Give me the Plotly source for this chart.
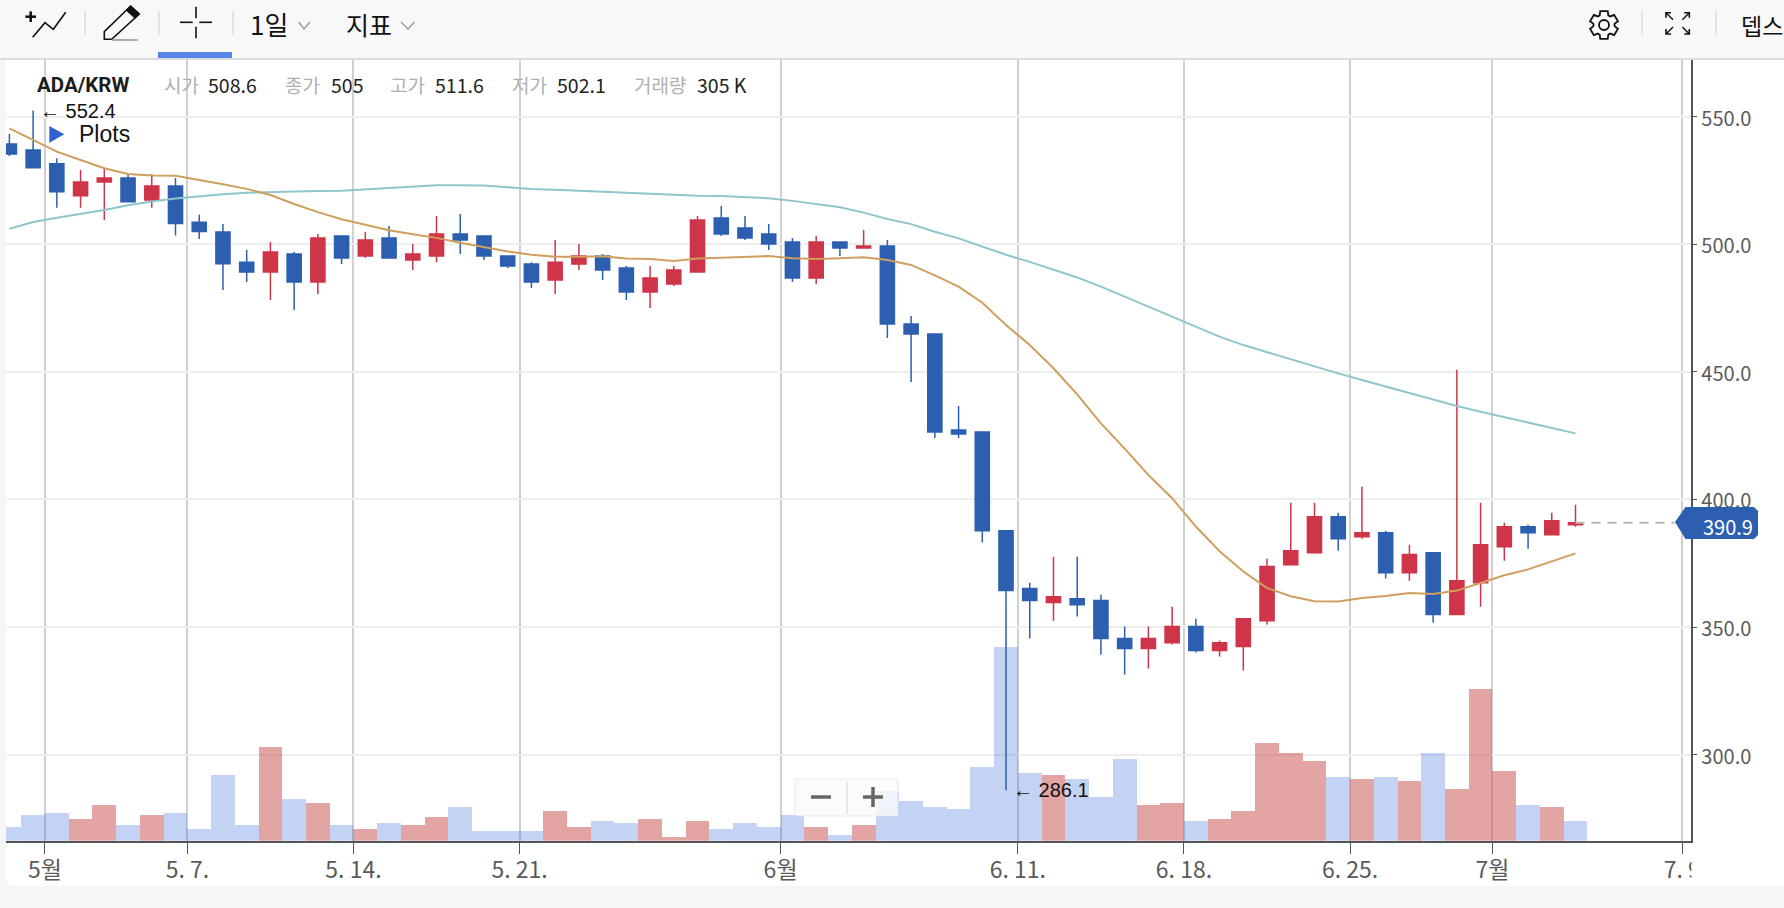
import math
import pandas as pd
import plotly.graph_objects as go

W, H = 1784, 908
SYMBOL = "ADA/KRW"
LAST_PRICE = 390.9

dates = pd.date_range("2023-04-29 12:00", periods=67, freq="D")

open_ = [539.3,536.9,531.5,519.0,524.4,526.0,517.3,522.8,508.6,504.8,493.0,489.1,496.2,485.2,503.2,495.4,502.5,493.8,495.4,504.0,
         503.2,495.4,492.3,486.0,492.3,495.4,490.7,481.3,484.4,489.1,510.3,506.4,504.0,500.9,486.8,500.9,498.5,499.3,468.8,464.8,
         427.2,426.4,387.7,365.1,359.6,361.1,360.4,345.5,341.6,343.9,350.2,340.8,342.4,352.5,374.4,379.1,393.2,385.4,387.0,371.3,
         379.1,354.9,367.4,381.5,389.3,386.2,390.1]
high = [543.2,552.4,533.7,529.1,529.8,527.5,527.5,526.0,511.6,507.9,497.8,500.9,497.0,504.0,503.2,504.8,507.2,500.1,511.1,511.9,
        503.2,495.4,493.0,501.7,500.1,496.2,491.5,491.5,491.5,511.1,515.0,511.1,507.9,502.5,503.2,500.9,505.6,501.7,471.9,464.8,
        436.6,426.4,387.7,367.4,377.6,377.6,362.7,350.2,350.2,358.0,353.3,344.7,353.3,376.8,398.7,398.7,394.8,405.0,387.7,382.3,
        379.1,450.8,398.7,390.9,390.1,394.8,397.9]
low = [534.6,530.0,514.3,514.3,509.5,516.7,514.3,503.4,502.1,482.1,485.2,478.2,474.2,480.5,492.3,494.6,494.6,489.9,493.0,496.2,
       493.8,490.7,482.9,480.5,489.9,486.0,478.2,475.0,483.6,489.1,503.2,501.7,497.8,485.2,484.4,495.4,498.5,463.3,446.0,424.1,
       424.1,383.1,286.1,345.5,352.5,354.1,339.2,331.4,333.8,343.2,340.0,338.5,333.0,351.0,374.4,379.1,379.9,384.6,369.0,368.2,
       351.8,354.9,358.0,376.0,380.7,386.2,389.3]
close = [535.4,530.0,520.6,524.4,526.0,516.7,522.8,508.1,505.0,492.4,489.1,497.0,485.2,502.5,494.6,501.7,494.6,496.2,504.0,501.7,
         495.4,491.5,485.2,493.0,495.4,489.9,481.3,486.8,489.9,509.5,504.0,502.5,500.1,486.8,500.9,498.5,499.3,468.8,464.8,426.4,
         425.7,387.7,364.3,360.4,361.9,358.8,345.5,341.6,345.5,350.2,340.8,343.9,353.3,373.7,379.9,393.2,384.6,387.0,371.3,378.4,
         354.9,368.2,382.3,389.3,387.0,391.7,390.9]
volume_k = [357,671,723,566,932,409,671,723,305,1716,409,2448,1089,984,409,305,462,409,618,880,
            253,253,253,775,357,514,462,566,96,514,305,462,357,671,357,148,409,1298,1036,880,
            827,1925,5060,1768,1716,1611,1141,2134,932,984,514,566,775,2552,2291,2082,1664,1611,1664,1559,
            2291,1350,3963,1820,932,880,514]
volume_side = "BBBRRBRBBBBRBRBRBRRBBBBRRBBRRRBBBBRBRBBBBBBBRBBBRRBRRRRRBRBRBRRRBRB"
ma_short = [545.4,540.9,536.3,533.0,529.8,527.5,526.9,526.8,525.2,523.5,521.7,519.3,515.8,512.6,509.8,507.7,505.5,503.9,502.5,500.6,
            498.9,497.2,495.9,495.1,495.1,495.3,494.4,494.2,493.4,494.4,494.7,495.1,495.4,494.5,494.2,494.5,494.9,493.8,491.9,487.8,
            483.4,477.1,468.4,460.5,451.4,441.2,429.8,419.9,409.6,400.5,389.4,379.7,371.8,365.3,362.1,360.1,360.0,361.4,362.2,363.4,
            363.0,364.3,367.4,370.3,372.6,375.7,378.9]
ma_long = [506.1,508.7,510.4,511.9,513.4,515.3,516.8,517.9,518.8,519.6,520.2,520.5,520.6,520.9,521.0,521.5,522.0,522.7,523.1,523.1,
           523.0,522.3,521.7,521.4,521.0,520.6,520.0,519.6,519.2,519.0,518.9,518.5,518.0,517.0,515.8,514.5,512.4,509.9,507.9,504.9,
           502.3,499.1,495.9,493.1,489.9,487.0,483.4,479.5,475.3,471.6,467.7,463.8,460.5,457.7,454.7,452.0,449.4,446.8,444.2,441.9,
           439.2,436.6,434.4,432.2,430.1,428.1,425.9]

x_tick_dates = ["2023-05-01","2023-05-07","2023-05-14","2023-05-21","2023-06-01","2023-06-11","2023-06-18","2023-06-25","2023-07-01","2023-07-09"]
x_tick_labels = ["5월","5. 7.","5. 14.","5. 21.","6월","6. 11.","6. 18.","6. 25.","7월","7. 9"]
price_ticks = [300,350,400,450,500,550]
price_labels = ["300.0","350.0","400.0","450.0","500.0","550.0"]
header_items = [("시가","508.6",163,207),("종가","505",284,330),("고가","511.6",389,434),("저가","502.1",511,556),("거래량","305 K",633,696)]

BLUE, RED = "#2d5fb0", "#cf3549"
KR = "Noto Sans CJK KR"
LAT = "Liberation Sans"


def px(x):
    return x / W


def py(y):
    return 1 - y / H


def rect(x0, y0, x1, y1, fill, layer="below"):
    return dict(type="rect", xref="paper", yref="paper", x0=px(x0), x1=px(x1), y0=py(y0), y1=py(y1),
                fillcolor=fill, line=dict(width=0), layer=layer)


def seg(x0, y0, x1, y1, color="#111", width=2):
    return dict(type="line", xref="paper", yref="paper", x0=px(x0), x1=px(x1), y0=py(y0), y1=py(y1),
                line=dict(color=color, width=width), layer="above")


def poly(points, color="#111", width=2, fill=None, closed=False):
    d = "M" + " L".join(f"{px(a):.5f},{py(b):.5f}" for a, b in points) + (" Z" if closed else "")
    return dict(type="path", xref="paper", yref="paper", path=d, layer="above",
                line=dict(color=color, width=width), fillcolor=fill if fill else "rgba(0,0,0,0)")


def text(x, y, s, size, color="#222", family=KR, anchor="left"):
    return dict(xref="paper", yref="paper", x=px(x), y=py(y), text=s, showarrow=False, xanchor=anchor,
                yanchor="middle", borderpad=0, font=dict(size=size, color=color, family=family))


vol_colors = ["rgba(58,105,218,0.30)" if s == "B" else "rgba(197,75,73,0.50)" for s in volume_side]

fig = go.Figure()
fig.add_trace(go.Bar(x=dates, y=volume_k, marker=dict(color=vol_colors, line=dict(width=0)), yaxis="y", showlegend=False))
fig.add_trace(go.Candlestick(x=dates, open=open_, high=high, low=low, close=close, yaxis="y2", showlegend=False,
                             increasing=dict(line=dict(color=RED, width=1.5), fillcolor=RED),
                             decreasing=dict(line=dict(color=BLUE, width=1.5), fillcolor=BLUE)))
fig.add_trace(go.Scatter(x=dates, y=ma_long, mode="lines", yaxis="y2", line=dict(color="#8fc6cc", width=2), showlegend=False))
fig.add_trace(go.Scatter(x=dates, y=ma_short, mode="lines", yaxis="y2", line=dict(color="#cf9f5e", width=2), showlegend=False))

shapes = [
    # page, card and toolbar
    dict(type="path", xref="paper", yref="paper", layer="below", fillcolor="white", line=dict(width=0),
         path=f"M{px(6)},{py(60)} L{px(1784)},{py(60)} L{px(1784)},{py(886)} L{px(16)},{py(886)} Q{px(6)},{py(886)} {px(6)},{py(876)} Z"),
    rect(0, 0, W, 58, "#f8f8f8"),
    rect(0, 58, W, 60, "#dcdcdc"),
    rect(158, 52, 232, 58, "#5586e8"),
    # covers the part of the last date label that runs past the price axis
    rect(1691.5, 843, W, 886, "white", layer="above"),
    # toolbar separators
    *[seg(x, 11, x, 35, "#dddddd", 1.5) for x in (85, 159, 233, 1642, 1716)],
    # add-plot icon
    seg(25.4, 16.7, 36, 16.7, "#111", 2.5), seg(30.7, 11.4, 30.7, 22, "#111", 2.5),
    poly([(32.7, 37.3), (45, 22.7), (53.3, 29.3), (65.7, 12.3)], "#111", 1.6),
    # pencil icon
    poly([(104.3, 39.3), (104.3, 31.7), (130.7, 6), (139.3, 14), (111.7, 39.3)], "#111", 1.6, closed=True),
    poly([(130.7, 6), (139.3, 14), (135, 18.3), (126, 10)], "#111", 1, fill="#111", closed=True),
    seg(111.7, 40, 137.7, 40, "#999", 1.6),
    # crosshair icon
    seg(196, 6.7, 196, 18.3, "#111", 1.6), seg(196, 26.7, 196, 38.3, "#111", 1.6),
    seg(180, 22.3, 192.7, 22.3, "#111", 1.6), seg(199.3, 22.3, 212, 22.3, "#111", 1.6),
    # chevrons
    poly([(298.6, 22), (304, 29), (310, 22)], "#999", 1.4),
    poly([(401, 22), (408, 29), (414.5, 22)], "#999", 1.4),
    # plots triangle
    poly([(49.3, 126), (49.3, 142.7), (64.3, 134.3)], "#2f62d0", 0, fill="#2f62d0", closed=True),
    # zoom widget
    dict(type="rect", xref="paper", yref="paper", x0=px(795), x1=px(898), y0=py(779), y1=py(816),
         fillcolor="rgba(250,250,250,0.82)", line=dict(color="rgba(225,225,225,0.7)", width=1), layer="above"),
    seg(847, 781, 847, 814, "#dddddd", 1.2),
    seg(811, 797, 831, 797, "#666", 3.5),
    seg(863, 797, 883, 797, "#666", 3.5), seg(873, 787, 873, 807, "#666", 3.5),
    # last price marker
    dict(type="line", xref="x", yref="y2", x0=dates[-1], x1="2023-07-08 16:00", y0=LAST_PRICE, y1=LAST_PRICE,
         line=dict(color="#b8b8b8", width=2, dash="9px,7px"), layer="above"),
    poly([(1675, 522), (1685.5, 507), (1754, 507), (1758, 511), (1758, 535), (1754, 539), (1685.5, 539)],
         BLUE, 0, fill=BLUE, closed=True),
]

# gear icon
gx, gy = 1604, 25
gear = []
for i in range(6):
    a = math.radians(i * 60)
    for off, r in ((-24, 10.6), (-15, 14.4), (15, 14.4), (24, 10.6)):
        t = a + math.radians(off)
        gear.append((gx + r * math.sin(t), gy - r * math.cos(t)))
shapes.append(poly(gear, "#111", 1.8, closed=True))
shapes.append(dict(type="circle", xref="paper", yref="paper", x0=px(gx - 5), x1=px(gx + 5), y0=py(gy + 5), y1=py(gy - 5),
                   line=dict(color="#111", width=1.8), layer="above"))
# fullscreen icon
for (cx, cy, dx, dy) in ((1666, 12.7, 1, 1), (1689.3, 12.7, -1, 1), (1666, 34, 1, -1), (1689.3, 34, -1, -1)):
    shapes.append(poly([(cx + 5 * dx, cy), (cx, cy), (cx, cy + 5 * dy)], "#111", 1.6))
    shapes.append(seg(cx, cy, cx + 7 * dx, cy + 7 * dy, "#111", 1.4))

annotations = [
    text(249, 24, "1일", 26, "#111"),
    text(344.5, 24, "지표", 25, "#111"),
    text(1740, 25, "뎁스", 23, "#111"),
    text(36, 84.7, f"<b>{SYMBOL}</b>", 20.5, "#1c1c1c", "Roboto"),
    text(78, 134, "Plots", 23, "#111", LAT),
    text(1702, 526, f"{LAST_PRICE}", 20, "white"),
    dict(x=dates[1], y=552.4, xref="x", yref="y2", text="← 552.4", showarrow=False, xanchor="left", xshift=5,
         font=dict(size=20, color="#111", family=LAT)),
    dict(x=dates[42], y=286.1, xref="x", yref="y2", text="← 286.1", showarrow=False, xanchor="left", xshift=5,
         font=dict(size=20, color="#111", family=LAT)),
]
for label, value, lx, vx in header_items:
    annotations.append(text(lx, 84, label, 19, "#b0b0b0"))
    annotations.append(text(vx, 84, value, 19.5, "#222"))

fig.update_layout(
    width=W, height=H, margin=dict(l=0, r=0, t=0, b=0, pad=0), autosize=False,
    paper_bgcolor="#f6f6f6", plot_bgcolor="white", bargap=0, boxgap=0.15, boxgroupgap=0.3, hovermode=False,
    shapes=shapes, annotations=annotations,
    xaxis=dict(domain=[px(6), px(1690.6)], type="date", range=["2023-04-29 08:34", "2023-07-09 08:24"], automargin=False,
               rangeslider=dict(visible=False), tickmode="array", tickvals=x_tick_dates, ticktext=x_tick_labels,
               showgrid=True, gridcolor="#d0d0d0", gridwidth=1.5, showline=True, linecolor="#555555", linewidth=2,
               ticks="outside", ticklen=11, tickcolor="#555555", tickwidth=1.2, zeroline=False, ticklabelstandoff=-3,
               tickfont=dict(size=23, color="#5a5a5a", family=KR), anchor="y"),
    yaxis=dict(domain=[py(840.7), py(60)], range=[0, 20400], showgrid=False, showticklabels=False, ticks="",
               zeroline=False, showline=False, automargin=False),
    yaxis2=dict(overlaying="y", side="right", anchor="x", range=[266.3, 572.2], tickmode="array", tickvals=price_ticks,
                ticktext=price_labels, showgrid=True, gridcolor="#eeeeee", gridwidth=2, zeroline=False, automargin=False,
                showline=True, linecolor="#555555", linewidth=1.5, ticks="outside", ticklen=5, tickcolor="#555555",
                ticklabelshift=2, tickfont=dict(size=20, color="#5a5a5a", family=KR)),
)

page_js = "document.body.style.margin='0';document.body.style.overflow='hidden';"
fig.write_html("out.html", config=dict(displayModeBar=False), post_script=page_js)
